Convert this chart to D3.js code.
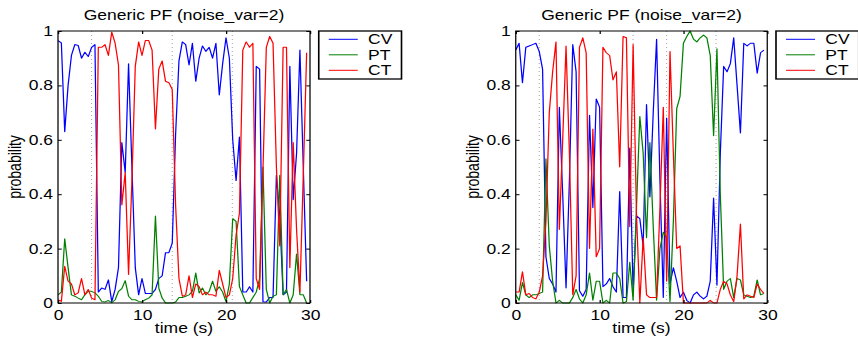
<!DOCTYPE html>
<html>
<head>
<meta charset="utf-8">
<script src="https://cdn.jsdelivr.net/npm/d3@7"></script>
<style>
  html, body { margin: 0; padding: 0; background: #fff; }
  svg { display: block; }
  text { font-family: "Liberation Sans", Arial, Helvetica, sans-serif; }
</style>
</head>
<body>
<svg id="chart"></svg>
<script>
// sampled every 0.4 s, 75 samples per run
const time = d3.range(75).map((i) => i * 0.4);
const seriesNames = ["CV", "PT", "CT"];
const seriesColors = ["#0000ff", "#008000", "#ff0000"];
const xTicks = [0, 10, 20, 30];
const yTicks = [0, 0.2, 0.4, 0.6, 0.8, 1];
const title = "Generic PF (noise_var=2)";

// left run
const leftCV = [0.965, 0.956, 0.63, 0.80, 0.91, 0.95, 0.947, 0.90, 0.922, 0.906, 0.94, 0.95,
  0.04, 0.055, 0.05, 0.085, 0.005, 0.05, 0.13, 0.59, 0.48, 0.88, 0.50, 0.13, 0.03, 0.09,
  0.035, 0.035, 0.035, 0.05, 0.09, 0.10, 0.185, 0.185, 0.22,
  0.62, 0.89, 0.96, 0.95, 0.875, 0.955, 0.815, 0.90, 0.945, 0.925, 0.94, 0.90, 0.955, 0.765, 0.88, 0.975,
  0.90, 0.60, 0.45, 0.61, 0.04, 0.04, 0.06, 0.04, 0.87, 0.86, 0.005, 0.004, 0.02, 0.02,
  0.47, 0.32, 0.03, 0.04, 0.87, 0.38, 0.55, 0.93, 0.50, 0.08];
const leftPT = [0.03, 0.04, 0.236, 0.13, 0.03, 0.025, 0.018, 0.012, 0.03, 0.043, 0.043, 0.037,
  0.025, 0.006, 0.004, 0.009, 0.001, 0.012, 0.043, 0.053, 0.082, 0.025, 0.012, 0.012, 0.006, 0.004,
  0.012, 0.018, 0.03, 0.32, 0.055, 0.018, 0.0, 0.0, 0.0,
  0.004, 0.02, 0.02, 0.025, 0.03, 0.043, 0.11, 0.037, 0.055, 0.03, 0.043, 0.08, 0.043, 0.06, 0.04, 0.005,
  0.07, 0.31, 0.30, 0.06, 0.03, 0.0, 0.0, 0.02, 0.04, 0.09, 0.50, 0.05, 0.0, 0.025,
  0.03, 0.47, 0.03, 0.05, 0.0, 0.03, 0.18, 0.03, 0.03, 0.0];
const leftCT = [0.012, 0.006, 0.135, 0.08, 0.07, 0.03, 0.037, 0.09, 0.03, 0.05, 0.018, 0.012,
  0.94, 0.94, 0.95, 0.91, 0.996, 0.955, 0.875, 0.36, 0.48, 0.105, 0.45, 0.87, 0.96, 0.91,
  0.965, 0.965, 0.93, 0.64, 0.86, 0.89, 0.815, 0.81, 0.785,
  0.36, 0.09, 0.025, 0.03, 0.10, 0.02, 0.07, 0.06, 0.03, 0.04, 0.03, 0.03, 0.025, 0.12, 0.07, 0.02,
  0.03, 0.09, 0.25, 0.33, 0.93, 0.96, 0.94, 0.955, 0.09, 0.05, 0.49, 0.94, 0.98, 0.955,
  0.50, 0.21, 0.94, 0.94, 0.13, 0.59, 0.27, 0.04, 0.47, 0.92];
const leftMarks = [4.0, 13.6, 20.75];

// right run
const rightCV = [0.93, 0.955, 0.81, 0.94, 0.945, 0.95, 0.955, 0.925, 0.86, 0.17, 0.09, 0.07, 0.04,
  0.72, 0.40, 0.055, 0.45, 0.95, 0.85, 0.045, 0.025, 0.05, 0.69, 0.35, 0.75, 0.72,
  0.06, 0.07, 0.09, 0.06, 0.04, 0.41, 0.02, 0.02, 0.57, 0.04, 0.32, 0.31,
  0.21, 0.73, 0.39, 0.70, 0.97, 0.45, 0.02, 0.68, 0.07, 0.13, 0.08, 0.02, 0.04,
  0.01, 0.0, 0.03, 0.04, 0.025, 0.015, 0.025, 0.08, 0.386, 0.065, 0.55, 0.87,
  0.85, 0.88, 0.975, 0.80, 0.625, 0.955, 0.945, 0.955, 0.955, 0.845, 0.92, 0.93];
const rightPT = [0.03, 0.01, 0.075, 0.03, 0.02, 0.03, 0.03, 0.035, 0.04, 0.53, 0.21, 0.08, 0.0,
  0.01, 0.0, 0.0, 0.0, 0.02, 0.05, 0.015, 0.0, 0.03, 0.11, 0.01, 0.08, 0.08,
  0.0, 0.01, 0.0, 0.11, 0.11, 0.09, 0.0, 0.005, 0.15, 0.01, 0.35, 0.686,
  0.55, 0.24, 0.59, 0.28, 0.01, 0.2, 0.26, 0.24, 0.005, 0.3, 0.715, 0.76, 0.955,
  0.98, 1.0, 0.97, 0.96, 0.975, 0.985, 0.975, 0.91, 0.615, 0.935, 0.4, 0.05,
  0.08, 0.09, 0.02, 0.09, 0.085, 0.03, 0.025, 0.02, 0.025, 0.085, 0.03, 0.035];
const rightCT = [0.04, 0.04, 0.115, 0.03, 0.035, 0.02, 0.015, 0.04, 0.1, 0.3, 0.7, 0.85, 0.96,
  0.27, 0.6, 0.945, 0.55, 0.03, 0.1, 0.94, 0.975, 0.92, 0.2, 0.64, 0.17, 0.2,
  0.94, 0.92, 0.91, 0.82, 0.85, 0.5, 0.98, 0.975, 0.28, 0.95, 0.33, 0.0,
  0.24, 0.03, 0.02, 0.02, 0.02, 0.35, 0.72, 0.08, 0.925, 0.55, 0.2, 0.21, 0.0,
  0.0, 0.0, 0.0, 0.0, 0.0, 0.0, 0.0, 0.01, 0.0, 0.0, 0.05, 0.08,
  0.07, 0.03, 0.005, 0.1, 0.29, 0.015, 0.03, 0.025, 0.02, 0.07, 0.05, 0.035];
const rightMarks = [2.8, 14.0, 18.0, 23.9];

// the original figure is stretched horizontally, so draw in a narrower box
const width = 858, height = 337, stretch = 1.25;
const svg = d3.select("#chart")
  .attr("width", width)
  .attr("height", height)
  .attr("viewBox", `0 0 ${width / stretch} ${height}`)
  .attr("preserveAspectRatio", "none");

const plotTop = 31, plotBottom = 303, fontSize = 14;

function panel(x0, x1, series, marks) {
  const g = svg.append("g");
  const x = d3.scaleLinear().domain([0, 30]).range([x0, x1]);
  const y = d3.scaleLinear().domain([0, 1]).range([plotBottom, plotTop]);

  // dotted event markers
  g.selectAll(".mark")
    .data(marks)
    .join("line")
    .attr("x1", (d) => x(d)).attr("x2", (d) => x(d))
    .attr("y1", plotTop).attr("y2", plotBottom)
    .attr("stroke", "#888")
    .attr("stroke-width", 0.7)
    .attr("stroke-dasharray", "1 3");

  const line = d3.line().x((d, i) => x(time[i])).y((d) => y(d));
  series.forEach((values, k) => {
    g.append("path")
      .datum(values)
      .attr("fill", "none")
      .attr("stroke", seriesColors[k])
      .attr("stroke-width", 1)
      .attr("stroke-linejoin", "round")
      .attr("d", line);
  });

  // axes with inward ticks on every side
  const tick = -3;
  const xb = g.append("g").attr("transform", `translate(0,${plotBottom})`)
    .call(d3.axisBottom(x).tickValues(xTicks).tickSizeInner(tick).tickSizeOuter(0).tickPadding(7));
  const yl = g.append("g").attr("transform", `translate(${x0},0)`)
    .call(d3.axisLeft(y).tickValues(yTicks).tickSizeInner(tick).tickSizeOuter(0).tickPadding(4)
      .tickFormat((d) => String(d)));
  g.append("g").attr("transform", `translate(0,${plotTop})`)
    .call(d3.axisTop(x).tickValues(xTicks).tickSizeInner(tick).tickSizeOuter(0).tickFormat(""));
  g.append("g").attr("transform", `translate(${x1},0)`)
    .call(d3.axisRight(y).tickValues(yTicks).tickSizeInner(tick).tickSizeOuter(0).tickFormat(""));
  g.selectAll(".domain").remove();
  g.selectAll(".tick line").attr("stroke", "#000");
  [xb, yl].forEach((a) => a.selectAll("text")
    .attr("fill", "#000")
    .style("font-family", '"Liberation Sans", Arial, sans-serif')
    .style("font-size", fontSize + "px"));

  g.append("rect")
    .attr("x", x0).attr("y", plotTop)
    .attr("width", x1 - x0).attr("height", plotBottom - plotTop)
    .attr("fill", "none")
    .attr("stroke", "#000")
    .attr("stroke-width", 1);

  g.append("text")
    .attr("x", (x0 + x1) / 2).attr("y", 20)
    .attr("text-anchor", "middle")
    .style("font-size", fontSize + "px")
    .text(title);

  g.append("text")
    .attr("x", (x0 + x1) / 2).attr("y", 333)
    .attr("text-anchor", "middle")
    .style("font-size", fontSize + "px")
    .text("time (s)");

  g.append("text")
    .attr("transform", `translate(${x0 - 29.5},${(plotTop + plotBottom) / 2}) rotate(-90)`)
    .attr("text-anchor", "middle")
    .style("font-size", fontSize + "px")
    .text("probability");

  // legend
  const lx = x1 + 7;
  const leg = g.append("g").attr("transform", `translate(${lx},${plotTop})`);
  leg.append("rect")
    .attr("width", 66.2).attr("height", 48)
    .attr("fill", "#fff")
    .attr("stroke", "#000")
    .attr("stroke-width", 1.3);
  seriesNames.forEach((name, k) => {
    const yy = 8.3 + k * 15.5;
    leg.append("line")
      .attr("x1", 8).attr("x2", 31.2)
      .attr("y1", yy).attr("y2", yy)
      .attr("stroke", seriesColors[k])
      .attr("stroke-width", 1);
    leg.append("text")
      .attr("x", 39.5).attr("y", yy + 5)
      .style("font-size", fontSize + "px")
      .text(name);
  });
}

panel(46.4, 248, [leftCV, leftPT, leftCT], leftMarks);
panel(412.6, 613.8, [rightCV, rightPT, rightCT], rightMarks);
</script>
</body>
</html>
